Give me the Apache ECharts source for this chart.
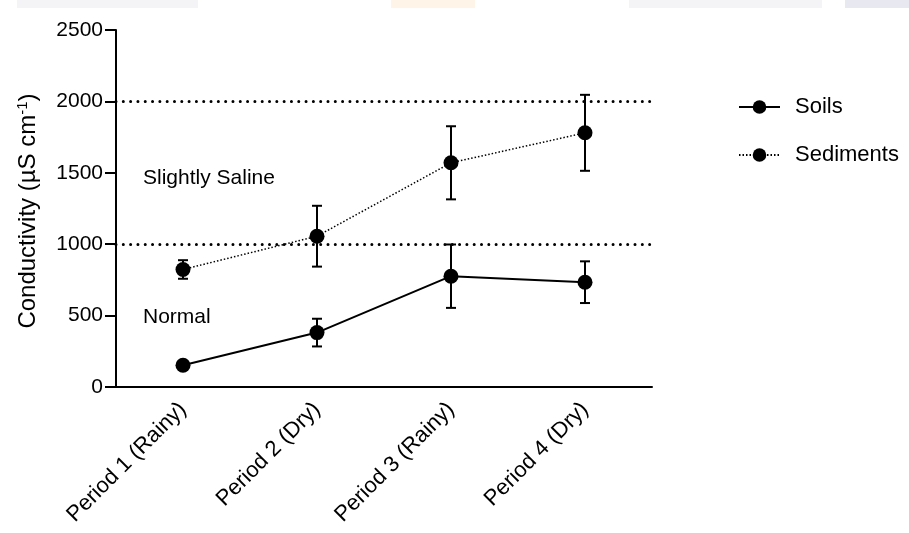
<!DOCTYPE html>
<html>
<head>
<meta charset="utf-8">
<script src="https://cdn.jsdelivr.net/npm/echarts@6/dist/echarts.min.js"></script>
<style>
html,body{margin:0;padding:0;background:#fff;}
#chart{width:909px;height:533px;}
</style>
</head>
<body>
<div id="chart"></div>
<script>
const categories = ['Period 1 (Rainy)', 'Period 2 (Dry)', 'Period 3 (Rainy)', 'Period 4 (Dry)'];
const soilsMean = [152, 381, 776, 734];
const soilsErr = [0, 97, 222, 146];
const sedimentsMean = [823, 1056, 1570, 1780];
const sedimentsErr = [65, 213, 256, 266];
const thresholds = [1000, 2000];
const yMin = 0, yMax = 2500, yInterval = 500;

const FONT = "'Liberation Sans', Arial, sans-serif";

function errData(mean, err) {
  return mean.map((m, i) => [i, m - err[i], m + err[i]]);
}

function errRender(params, api) {
  const x = api.value(0);
  const lo = api.value(1), hi = api.value(2);
  if (hi - lo <= 0) return null;
  const p1 = api.coord([x, lo]);
  const p2 = api.coord([x, hi]);
  const w = 5;
  const style = { stroke: '#000', lineWidth: 2 };
  return {
    type: 'group',
    children: [
      { type: 'line', shape: { x1: p1[0], y1: p1[1], x2: p2[0], y2: p2[1] }, style },
      { type: 'line', shape: { x1: p1[0] - w, y1: p1[1], x2: p1[0] + w, y2: p1[1] }, style },
      { type: 'line', shape: { x1: p2[0] - w, y1: p2[1], x2: p2[0] + w, y2: p2[1] }, style }
    ]
  };
}

const chart = echarts.init(document.getElementById('chart'), null, { renderer: 'canvas' });
const option = {
  animation: false,
  backgroundColor: '#fff',
  textStyle: { fontFamily: FONT, color: '#000' },
  grid: { left: 116, top: 30, width: 536, height: 357, containLabel: false },
  legend: {
    orient: 'vertical',
    left: 733,
    top: 91,
    itemGap: 26,
    itemWidth: 41,
    itemHeight: 17,
    textStyle: { fontSize: 22, color: '#000', fontFamily: FONT, padding: [0, 0, 0, 10] },
    data: ['Soils', 'Sediments']
  },
  xAxis: {
    type: 'category',
    data: categories,
    boundaryGap: true,
    axisLine: { lineStyle: { color: '#000', width: 2 } },
    axisTick: { alignWithLabel: true, length: 9, lineStyle: { color: '#000', width: 2 } },
    axisLabel: { rotate: 45, fontSize: 22, color: '#000', margin: 19, fontFamily: FONT },
    splitLine: { show: false }
  },
  yAxis: {
    type: 'value',
    min: yMin, max: yMax, interval: yInterval,
    axisLine: { show: true, lineStyle: { color: '#000', width: 2 } },
    axisTick: { show: true, length: 11, lineStyle: { color: '#000', width: 2 } },
    axisLabel: { fontSize: 21, color: '#000', margin: 13, fontFamily: FONT, formatter: v => String(v) },
    splitLine: { show: false }
  },
  graphic: [
    { type: 'rect', left: 17, top: 0, shape: { width: 181, height: 8 }, style: { fill: '#f4f4f6' }, z: -1 },
    { type: 'rect', left: 391, top: 0, shape: { width: 84, height: 8 }, style: { fill: '#fff4e8' }, z: -1 },
    { type: 'rect', left: 629, top: 0, shape: { width: 193, height: 8 }, style: { fill: '#f4f4f6' }, z: -1 },
    { type: 'rect', left: 845, top: 0, shape: { width: 64, height: 8 }, style: { fill: '#e8e8f0' }, z: -1 },
    {
      type: 'text', x: 28, y: 211, rotation: Math.PI / 2,
      style: {
        text: '{a|Conductivity (µS cm}{s|-1}{a|)}',
        align: 'center', verticalAlign: 'middle',
        rich: {
          a: { fontSize: 24, fontFamily: FONT, fill: '#000', color: '#000' },
          s: { fontSize: 15, fontFamily: FONT, fill: '#000', color: '#000', verticalAlign: 'top', padding: [0, 0, 10, 0] }
        }
      }
    },
    { type: 'text', x: 143, y: 178, style: { text: 'Slightly Saline', fontSize: 21, fontFamily: FONT, fill: '#000', verticalAlign: 'middle' } },
    { type: 'text', x: 143, y: 317, style: { text: 'Normal', fontSize: 21, fontFamily: FONT, fill: '#000', verticalAlign: 'middle' } }
  ],
  series: [
    {
      name: 'Soils',
      type: 'line',
      data: soilsMean,
      symbol: 'circle',
      symbolSize: 15,
      itemStyle: { color: '#000' },
      lineStyle: { color: '#000', width: 2, type: 'solid' },
      z: 3,
      markLine: {
        silent: true,
        symbol: 'none',
        label: { show: false },
        lineStyle: { color: '#000', width: 3, type: [0.01, 7.3], cap: 'round' },
        data: thresholds.map(v => ({ yAxis: v }))
      }
    },
    {
      name: 'Sediments',
      type: 'line',
      data: sedimentsMean,
      symbol: 'circle',
      symbolSize: 15,
      itemStyle: { color: '#000' },
      lineStyle: { color: '#000', width: 1.5, type: [1.5, 2] },
      z: 3
    },
    {
      type: 'custom',
      renderItem: errRender,
      data: errData(soilsMean, soilsErr),
      encode: { x: 0, y: [1, 2] },
      z: 2,
      silent: true
    },
    {
      type: 'custom',
      renderItem: errRender,
      data: errData(sedimentsMean, sedimentsErr),
      encode: { x: 0, y: [1, 2] },
      z: 2,
      silent: true
    }
  ]
};
chart.setOption(option);
</script>
</body>
</html>
